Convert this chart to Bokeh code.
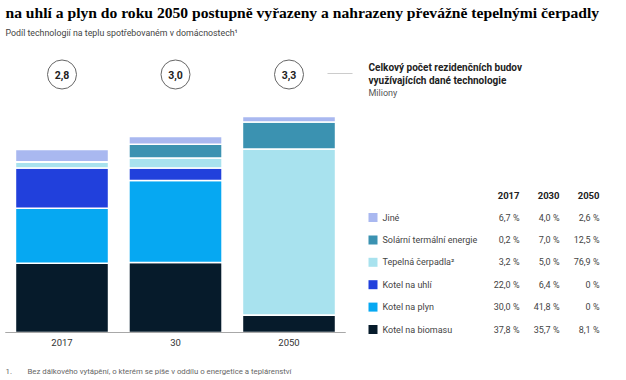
from bokeh.plotting import figure
from bokeh.models import Range1d, Label, BoxAnnotation, ColumnDataSource
from bokeh.core.properties import value
from bokeh.embed import file_html
from bokeh.resources import INLINE

# ---------------- data ----------------
years = ["2017", "30", "2050"]
table_years = ["2017", "2030", "2050"]
totals = [2.8, 3.0, 3.3]
techs = ["Jiné", "Solární termální energie", "Tepelná čerpadla²",
         "Kotel na uhlí", "Kotel na plyn", "Kotel na biomasu"]
jine = [6.7, 4.0, 2.6]
solarni = [0.2, 7.0, 12.5]
tepelna = [3.2, 5.0, 76.9]
uhli = [22.0, 6.4, 0.0]
plyn = [30.0, 41.8, 0.0]
biomasa = [37.8, 35.7, 8.1]
colors = ["#a9b8f0", "#3b92b1", "#a8e2ee", "#2140dc", "#06a8f2", "#061b2b"]

title = "na uhlí a plyn do roku 2050 postupně vyřazeny a nahrazeny převážně tepelnými čerpadly"
subtitle = "Podíl technologií na teplu spotřebovaném v domácnostech¹"
legend_title = ["Celkový počet rezidenčních budov", "využívajících dané technologie"]
legend_unit = "Miliony"
footnote_nums = ["1."]
footnotes = ["Bez dálkového vytápění, o kterém se píše v oddílu o energetice a teplárenství"]

shares = [jine, solarni, tepelna, uhli, plyn, biomasa]

# ---------------- layout constants (canvas pixels) ----------------
W, H = 626, 380
BASE_Y = 332          # baseline of bars
PX_PER_M = 65.4       # pixels per million buildings
FIRST_X = 61.5        # centre of first bar
STEP_X = 113.5        # distance between bars

SANS = "Roboto"

def sy(py):
    return H - py

xs = list(range(len(years)))
keys = [f"t{i}" for i in range(len(techs))]
data = {"x": xs}
for k, s in zip(keys, shares):
    data[k] = [t * v / 100.0 for t, v in zip(totals, s)]
src = ColumnDataSource(data)

p = figure(width=W, height=H,
           x_range=Range1d(-FIRST_X / STEP_X, (W - FIRST_X) / STEP_X),
           y_range=Range1d(-(H - BASE_Y) / PX_PER_M, BASE_Y / PX_PER_M),
           x_axis_location=None, y_axis_location=None,
           output_backend="svg", toolbar_location=None,
           min_border=0)
p.outline_line_color = None
p.xgrid.grid_line_color = None
p.ygrid.grid_line_color = None
p.background_fill_color = "white"
p.border_fill_color = "white"

p.vbar_stack(keys[::-1], x="x", width=0.82, source=src,
             fill_color=colors[::-1], line_color="white", line_width=1.5)

# baseline
p.segment(x0=[-0.5], x1=[len(years) - 0.5], y0=[0], y1=[0],
          line_color="#a8a8a8", line_width=1)

# category labels
p.text(x=xs, y=[-10 / PX_PER_M] * len(xs), text=years,
       text_align="center", text_baseline="middle",
       text_font=value(SANS), text_font_size="9.5px", text_color="#333333")

# totals circles
circle_y = (BASE_Y - 74) / PX_PER_M
p.scatter(x=xs, y=[circle_y] * len(xs), size=29, marker="circle",
          fill_color="white", line_color="#666666", line_width=1)
p.text(x=xs, y=[circle_y] * len(xs),
       text=[f"{t:.1f}".replace(".", ",") for t in totals],
       text_align="center", text_baseline="middle",
       text_font=value(SANS), text_font_size="10.5px", text_color="#222222",
       text_font_style="bold")

def lab(x, y, text, size="10px", color="#333333", bold=False, align="left",
        baseline="middle", font=SANS):
    p.add_layout(Label(x=x, y=sy(y), x_units="screen", y_units="screen", text=text,
                       text_font=font, text_font_size=size, text_color=color,
                       text_font_style="bold" if bold else "normal",
                       text_align=align, text_baseline=baseline))

def box(l, r, t, b, color):
    p.add_layout(BoxAnnotation(left=l, right=r, top=sy(t), bottom=sy(b),
                               left_units="screen", right_units="screen",
                               top_units="screen", bottom_units="screen",
                               fill_color=color, fill_alpha=1, line_color=None))

# title & subtitle
lab(5, 12, title, size="15.6px", color="#000000", bold=True, font="Liberation Serif")
lab(5, 32, subtitle, size="8.8px", color="#444444")

# legend header
box(327, 352, 72.5, 73.5, "#cccccc")
lab(368, 67, legend_title[0], size="10px", color="#222222", bold=True)
lab(368, 80, legend_title[1], size="10px", color="#222222", bold=True)
lab(368, 92, legend_unit, size="9px", color="#555555")

# table
col_right = [519, 559, 599]
for cx, yr in zip(col_right, table_years):
    lab(cx, 195, yr, size="9.5px", color="#222222", bold=True, align="right")

row_y0, row_dy = 217, 22.4
for i, (name, s, c) in enumerate(zip(techs, shares, colors)):
    yy = row_y0 + i * row_dy
    box(368, 377, yy - 4.5, yy + 4.5, c)
    lab(382, yy, name, size="9px", color="#444444")
    for cx, v in zip(col_right, s):
        txt = ("0 %" if v == 0 else f"{v:.1f}".replace(".", ",") + " %")
        lab(cx, yy, txt, size="9px", color="#444444", align="right")

# footnotes
for j, (n, f) in enumerate(zip(footnote_nums, footnotes)):
    lab(5, 371 + j * 9, n, size="7.8px", color="#666666")
    lab(27, 371 + j * 9, f, size="7.8px", color="#666666")

open("out.html", "w").write(file_html(p, INLINE))
